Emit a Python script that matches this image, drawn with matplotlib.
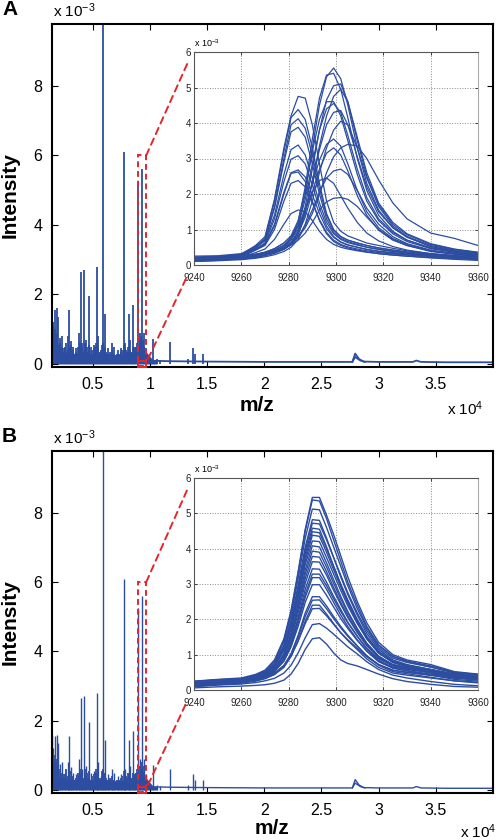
import matplotlib.pyplot as plt
from matplotlib.patches import Rectangle, ConnectionPatch

plt.rcParams['font.family'] = ['Liberation Sans', 'DejaVu Sans']
plt.rcParams['mathtext.fontset'] = 'custom'
plt.rcParams['mathtext.rm'] = 'Liberation Sans'
plt.rcParams['mathtext.it'] = 'Liberation Sans:italic'
plt.rcParams['mathtext.bf'] = 'Liberation Sans:bold'

BLUE = '#2c4da0'
RED = '#e3262e'

# --- overview spectrum (intensity in units of 1e-3) ---
peak_mz = [1470, 1560, 1700, 1850, 1960, 2100, 2350, 2600, 2800, 2950,
           3100, 3300, 3500, 3800, 3950, 4100, 4270, 4450, 4650, 4850,
           5100, 5350, 5500, 5700, 5880, 6080, 6300, 6650, 6900, 7200,
           7500, 7740, 7850, 8150, 8300, 8550, 8700, 8940, 9100, 9300,
           9500, 9700, 10270, 10600, 10900, 11760, 13340, 13800, 13950, 14680]
peak_int = [1.6, 1.2, 1.55, 1.6, 1.35, 0.75, 0.8, 0.5, 0.8, 1.55,
            0.65, 0.5, 0.45, 0.9, 2.65, 0.6, 2.7, 0.7, 1.95, 0.5,
            0.55, 2.8, 0.8, 0.4, 10.5, 1.45, 0.45, 0.6, 0.5, 0.4,
            0.45, 6.1, 0.6, 1.45, 0.7, 1.7, 0.5, 5.25, 0.9, 5.6,
            0.9, 0.45, 0.72, 0.15, 0.12, 0.62, 0.15, 0.45, 0.3, 0.3]

noise_mz = [1500, 1550, 1600, 1650, 1700, 1750, 1800, 1850, 1900, 1950,
            2000, 2100, 2200, 2300, 2400, 2500, 2600, 2700, 2800, 2900,
            3000, 3100, 3200, 3300, 3400, 3500, 3600, 3700, 3800, 3900,
            4000, 4100, 4200, 4300, 4400, 4500, 4600, 4700, 4800, 4900,
            5000, 5100, 5200, 5300, 5400, 5500, 5600, 5700, 5800, 5900,
            6000, 6100, 6200, 6300, 6400, 6500, 6600, 6700, 6800, 6900,
            7000, 7100, 7200, 7300, 7400, 7500, 7600, 7700, 7800, 7900,
            8000, 8100, 8200, 8300, 8400, 8500, 8600, 8700, 8800, 8900,
            9000, 9100, 9200, 9300, 9400, 9500, 9600, 9700, 9800, 9900,
            10000, 10100, 10200, 10300, 10400]
noise_int = [0.9, 1.1, 0.5, 0.8, 1.0, 0.7, 0.6, 0.9, 0.8, 0.55,
             0.4, 0.6, 0.35, 0.5, 0.3, 0.45, 0.35, 0.6, 0.4, 0.5,
             0.3, 0.55, 0.3, 0.4, 0.25, 0.35, 0.3, 0.5, 0.4, 0.6,
             0.45, 0.5, 0.35, 0.6, 0.4, 0.5, 0.35, 0.55, 0.3, 0.4,
             0.3, 0.45, 0.5, 0.6, 0.45, 0.5, 0.35, 0.3, 0.55, 0.6,
             0.5, 0.45, 0.35, 0.3, 0.25, 0.35, 0.3, 0.4, 0.25, 0.3,
             0.25, 0.3, 0.2, 0.3, 0.25, 0.35, 0.4, 0.55, 0.5, 0.4,
             0.35, 0.5, 0.45, 0.4, 0.35, 0.5, 0.45, 0.4, 0.5, 0.6,
             0.5, 0.7, 0.8, 0.6, 0.7, 0.5, 0.4, 0.3, 0.25, 0.2,
             0.18, 0.15, 0.12, 0.12, 0.1]

band_mz = [1440, 2000, 3000, 4000, 5000, 6000, 7000, 8000, 9000, 9600, 10200, 10600]
band_hi = [0.5, 0.4, 0.3, 0.32, 0.3, 0.32, 0.25, 0.3, 0.38, 0.38, 0.14, 0.09]

base_mz = [1440, 3000, 6000, 9000, 10500, 12000, 15000, 20000, 25000, 27700,
           27950, 28300, 28700, 30000, 33000, 33300, 33700, 36000, 40000]
base_int = [0.12, 0.1, 0.08, 0.08, 0.09, 0.08, 0.07, 0.06, 0.06, 0.06,
            0.3, 0.14, 0.07, 0.06, 0.06, 0.1, 0.06, 0.05, 0.05]
bump_mz = [27700, 27950, 28400, 28800]
bump_int = [0.06, 0.2, 0.1, 0.06]

# zoomed region shown in the overview
zoom_mz = (8940, 9680)
zoom_int = 6.0

# --- inset curves (m/z 9240-9360, intensity in units of 1e-3) ---
inset_mz = [9240, 9250, 9260, 9266, 9270, 9274, 9278, 9281, 9284, 9287, 9290, 9293,
            9296, 9299, 9302, 9305, 9309, 9313, 9318, 9324, 9330, 9340, 9350, 9360]

curves_a = [
    [0.20, 0.22, 0.30, 0.55, 0.80, 1.85, 3.30, 4.20, 4.75, 4.70, 3.95, 2.85, 1.80, 1.20, 0.95, 0.82, 0.72, 0.62, 0.55, 0.47, 0.40, 0.32, 0.27, 0.22],
    [0.18, 0.20, 0.28, 0.50, 0.75, 1.80, 3.20, 4.15, 4.38, 4.10, 3.30, 2.30, 1.45, 1.00, 0.80, 0.70, 0.62, 0.55, 0.48, 0.42, 0.36, 0.30, 0.25, 0.20],
    [0.25, 0.26, 0.32, 0.52, 0.72, 1.65, 3.00, 3.95, 4.12, 3.85, 3.10, 2.15, 1.40, 0.98, 0.80, 0.70, 0.62, 0.55, 0.48, 0.42, 0.37, 0.30, 0.26, 0.22],
    [0.15, 0.18, 0.26, 0.48, 0.70, 1.60, 2.90, 3.75, 3.88, 3.60, 2.85, 2.00, 1.30, 0.92, 0.75, 0.66, 0.58, 0.50, 0.44, 0.38, 0.33, 0.27, 0.22, 0.18],
    [0.22, 0.24, 0.30, 0.50, 0.68, 1.40, 2.55, 3.25, 3.38, 3.10, 2.45, 1.75, 1.20, 0.88, 0.72, 0.63, 0.56, 0.50, 0.44, 0.39, 0.34, 0.28, 0.24, 0.20],
    [0.12, 0.15, 0.24, 0.45, 0.62, 1.30, 2.35, 2.98, 3.08, 2.85, 2.25, 1.60, 1.10, 0.80, 0.65, 0.57, 0.50, 0.44, 0.38, 0.33, 0.29, 0.24, 0.20, 0.16],
    [0.20, 0.22, 0.28, 0.45, 0.60, 1.15, 2.05, 2.60, 2.68, 2.48, 1.98, 1.45, 1.02, 0.78, 0.64, 0.56, 0.50, 0.44, 0.39, 0.35, 0.31, 0.26, 0.22, 0.19],
    [0.10, 0.13, 0.22, 0.42, 0.58, 1.10, 2.00, 2.58, 2.62, 2.35, 1.80, 1.25, 0.88, 0.66, 0.55, 0.48, 0.42, 0.37, 0.32, 0.28, 0.25, 0.20, 0.16, 0.13],
    [0.18, 0.20, 0.26, 0.42, 0.55, 1.00, 1.80, 2.30, 2.38, 2.20, 1.75, 1.28, 0.92, 0.70, 0.58, 0.51, 0.45, 0.40, 0.35, 0.31, 0.28, 0.24, 0.20, 0.17],
    [0.14, 0.16, 0.22, 0.35, 0.45, 0.72, 1.15, 1.45, 1.55, 1.50, 1.25, 0.95, 0.72, 0.58, 0.50, 0.45, 0.40, 0.36, 0.32, 0.28, 0.25, 0.21, 0.18, 0.15],
    [0.15, 0.17, 0.20, 0.25, 0.30, 0.38, 0.50, 0.70, 1.10, 2.00, 3.30, 4.50, 5.30, 5.55, 5.25, 4.50, 3.30, 2.30, 1.55, 1.05, 0.78, 0.52, 0.40, 0.32],
    [0.12, 0.14, 0.18, 0.24, 0.30, 0.40, 0.55, 0.75, 1.20, 2.20, 3.55, 4.70, 5.35, 5.40, 4.95, 4.15, 3.00, 2.10, 1.40, 0.95, 0.70, 0.48, 0.36, 0.28],
    [0.18, 0.20, 0.22, 0.26, 0.30, 0.36, 0.46, 0.62, 0.95, 1.65, 2.70, 3.80, 4.65, 5.05, 5.10, 4.60, 3.50, 2.50, 1.70, 1.15, 0.85, 0.58, 0.44, 0.35],
    [0.14, 0.16, 0.19, 0.23, 0.28, 0.34, 0.44, 0.58, 0.85, 1.45, 2.35, 3.35, 4.20, 4.75, 4.95, 4.60, 3.60, 2.60, 1.75, 1.20, 0.88, 0.60, 0.45, 0.36],
    [0.20, 0.22, 0.25, 0.30, 0.36, 0.46, 0.62, 0.82, 1.25, 2.10, 3.20, 4.10, 4.60, 4.60, 4.20, 3.50, 2.55, 1.80, 1.25, 0.88, 0.66, 0.46, 0.36, 0.28],
    [0.16, 0.18, 0.21, 0.26, 0.32, 0.42, 0.56, 0.74, 1.10, 1.85, 2.85, 3.80, 4.40, 4.55, 4.30, 3.65, 2.70, 1.90, 1.30, 0.92, 0.70, 0.48, 0.38, 0.30],
    [0.22, 0.24, 0.26, 0.30, 0.34, 0.40, 0.50, 0.64, 0.92, 1.50, 2.35, 3.25, 3.95, 4.30, 4.35, 3.95, 3.05, 2.20, 1.50, 1.05, 0.80, 0.55, 0.42, 0.34],
    [0.10, 0.12, 0.15, 0.19, 0.23, 0.29, 0.38, 0.50, 0.72, 1.15, 1.80, 2.60, 3.30, 3.80, 4.05, 3.95, 3.30, 2.45, 1.65, 1.10, 0.80, 0.52, 0.38, 0.28],
    [0.18, 0.20, 0.23, 0.28, 0.33, 0.42, 0.55, 0.72, 1.00, 1.55, 2.30, 2.95, 3.40, 3.55, 3.35, 2.85, 2.10, 1.50, 1.05, 0.75, 0.58, 0.40, 0.32, 0.25],
    [0.13, 0.15, 0.18, 0.22, 0.27, 0.35, 0.47, 0.62, 0.88, 1.35, 2.05, 2.70, 3.15, 3.30, 3.10, 2.65, 1.95, 1.40, 0.98, 0.70, 0.55, 0.38, 0.30, 0.24],
    [0.20, 0.22, 0.25, 0.30, 0.36, 0.46, 0.62, 0.80, 1.10, 1.55, 2.05, 2.38, 2.45, 2.30, 1.95, 1.60, 1.20, 0.90, 0.68, 0.52, 0.42, 0.32, 0.26, 0.21],
    [0.12, 0.14, 0.17, 0.21, 0.26, 0.33, 0.44, 0.58, 0.80, 1.12, 1.55, 2.05, 2.45, 2.65, 2.70, 2.55, 2.10, 1.60, 1.15, 0.80, 0.60, 0.42, 0.33, 0.26],
    [0.16, 0.18, 0.21, 0.25, 0.30, 0.36, 0.46, 0.58, 0.78, 1.05, 1.45, 2.00, 2.60, 3.05, 3.30, 3.40, 3.35, 3.00, 2.40, 1.75, 1.30, 0.90, 0.75, 0.55],
    [0.20, 0.22, 0.24, 0.28, 0.32, 0.38, 0.46, 0.56, 0.70, 0.90, 1.20, 1.55, 1.78, 1.88, 1.90, 1.85, 1.65, 1.35, 1.00, 0.72, 0.55, 0.40, 0.32, 0.26],
]

curves_b = [
    [0.20, 0.28, 0.32, 0.42, 0.55, 0.85, 1.45, 2.25, 3.35, 4.55, 5.45, 5.45, 4.95, 4.40, 3.80, 3.20, 2.50, 1.90, 1.35, 1.00, 0.85, 0.72, 0.52, 0.45],
    [0.18, 0.25, 0.30, 0.40, 0.52, 0.80, 1.40, 2.20, 3.30, 4.50, 5.38, 5.35, 4.85, 4.25, 3.65, 3.05, 2.40, 1.80, 1.28, 0.95, 0.80, 0.65, 0.48, 0.40],
    [0.25, 0.30, 0.34, 0.44, 0.56, 0.82, 1.38, 2.10, 3.15, 4.30, 5.12, 5.10, 4.60, 4.05, 3.50, 2.95, 2.30, 1.75, 1.25, 0.95, 0.82, 0.68, 0.50, 0.42],
    [0.15, 0.22, 0.27, 0.36, 0.47, 0.72, 1.25, 1.95, 2.95, 4.05, 4.82, 4.80, 4.30, 3.75, 3.20, 2.70, 2.12, 1.60, 1.15, 0.85, 0.72, 0.58, 0.42, 0.35],
    [0.22, 0.27, 0.31, 0.40, 0.50, 0.75, 1.28, 1.95, 2.90, 3.95, 4.72, 4.70, 4.25, 3.75, 3.25, 2.75, 2.18, 1.68, 1.20, 0.90, 0.78, 0.65, 0.50, 0.44],
    [0.12, 0.18, 0.24, 0.33, 0.44, 0.68, 1.18, 1.85, 2.80, 3.85, 4.58, 4.55, 4.05, 3.50, 2.98, 2.50, 1.95, 1.48, 1.05, 0.78, 0.66, 0.52, 0.38, 0.30],
    [0.20, 0.26, 0.30, 0.38, 0.48, 0.70, 1.20, 1.85, 2.75, 3.75, 4.48, 4.45, 4.00, 3.50, 3.00, 2.55, 2.00, 1.52, 1.10, 0.82, 0.70, 0.58, 0.45, 0.38],
    [0.16, 0.22, 0.27, 0.35, 0.45, 0.66, 1.12, 1.75, 2.65, 3.65, 4.38, 4.35, 3.90, 3.40, 2.92, 2.45, 1.92, 1.45, 1.05, 0.78, 0.68, 0.55, 0.42, 0.36],
    [0.24, 0.29, 0.32, 0.40, 0.50, 0.70, 1.12, 1.72, 2.58, 3.55, 4.22, 4.20, 3.75, 3.28, 2.82, 2.38, 1.88, 1.45, 1.05, 0.80, 0.70, 0.58, 0.46, 0.40],
    [0.10, 0.16, 0.22, 0.30, 0.40, 0.60, 1.02, 1.60, 2.45, 3.40, 4.08, 4.05, 3.60, 3.12, 2.65, 2.22, 1.74, 1.32, 0.95, 0.70, 0.60, 0.48, 0.34, 0.28],
    [0.18, 0.24, 0.28, 0.35, 0.44, 0.62, 1.02, 1.58, 2.38, 3.28, 3.93, 3.90, 3.48, 3.02, 2.58, 2.18, 1.72, 1.32, 0.96, 0.72, 0.63, 0.52, 0.40, 0.34],
    [0.14, 0.20, 0.25, 0.32, 0.41, 0.58, 0.96, 1.50, 2.28, 3.15, 3.78, 3.76, 3.35, 2.90, 2.48, 2.10, 1.66, 1.28, 0.92, 0.70, 0.62, 0.50, 0.38, 0.32],
    [0.22, 0.27, 0.30, 0.36, 0.44, 0.60, 0.95, 1.45, 2.18, 3.02, 3.63, 3.62, 3.25, 2.82, 2.42, 2.05, 1.62, 1.25, 0.92, 0.72, 0.64, 0.54, 0.44, 0.40],
    [0.12, 0.18, 0.23, 0.30, 0.38, 0.54, 0.88, 1.36, 2.05, 2.85, 3.43, 3.42, 3.05, 2.65, 2.28, 1.92, 1.52, 1.16, 0.84, 0.62, 0.54, 0.42, 0.30, 0.25],
    [0.20, 0.25, 0.28, 0.34, 0.42, 0.56, 0.88, 1.32, 1.98, 2.72, 3.28, 3.28, 2.95, 2.58, 2.22, 1.90, 1.52, 1.18, 0.88, 0.68, 0.60, 0.50, 0.40, 0.36],
    [0.15, 0.21, 0.25, 0.31, 0.39, 0.52, 0.82, 1.25, 1.90, 2.62, 3.18, 3.18, 2.85, 2.48, 2.12, 1.80, 1.42, 1.10, 0.80, 0.62, 0.55, 0.45, 0.35, 0.30],
    [0.24, 0.28, 0.30, 0.35, 0.42, 0.55, 0.82, 1.22, 1.80, 2.48, 2.98, 2.98, 2.68, 2.35, 2.02, 1.74, 1.40, 1.10, 0.82, 0.65, 0.58, 0.50, 0.42, 0.38],
    [0.10, 0.15, 0.19, 0.25, 0.32, 0.44, 0.68, 1.02, 1.55, 2.18, 2.64, 2.64, 2.38, 2.08, 1.80, 1.55, 1.25, 0.96, 0.70, 0.52, 0.46, 0.36, 0.26, 0.20],
    [0.18, 0.22, 0.25, 0.30, 0.36, 0.47, 0.70, 1.02, 1.50, 2.08, 2.54, 2.55, 2.30, 2.02, 1.76, 1.52, 1.24, 0.97, 0.72, 0.56, 0.50, 0.42, 0.34, 0.30],
    [0.14, 0.19, 0.22, 0.27, 0.33, 0.44, 0.64, 0.95, 1.40, 1.95, 2.40, 2.40, 2.15, 1.88, 1.62, 1.40, 1.14, 0.88, 0.64, 0.48, 0.42, 0.34, 0.26, 0.22],
    [0.20, 0.24, 0.27, 0.32, 0.38, 0.48, 0.68, 0.96, 1.38, 1.88, 2.30, 2.31, 2.10, 1.86, 1.62, 1.42, 1.18, 0.94, 0.72, 0.56, 0.50, 0.42, 0.35, 0.31],
    [0.10, 0.14, 0.17, 0.21, 0.26, 0.33, 0.48, 0.70, 1.05, 1.48, 1.85, 1.88, 1.75, 1.58, 1.40, 1.22, 1.02, 0.80, 0.58, 0.42, 0.34, 0.24, 0.16, 0.12],
    [0.06, 0.09, 0.11, 0.13, 0.15, 0.19, 0.28, 0.45, 0.75, 1.15, 1.45, 1.48, 1.30, 1.05, 0.85, 0.75, 0.68, 0.58, 0.45, 0.32, 0.24, 0.16, 0.10, 0.08],
]

main_xticks = [5000, 10000, 15000, 20000, 25000, 30000, 35000]
main_xlabels = ['0.5', '1', '1.5', '2', '2.5', '3', '3.5']
main_yticks = [0, 2, 4, 6, 8]
inset_xticks = [9240, 9260, 9280, 9300, 9320, 9340, 9360]
inset_yticks = [0, 1, 2, 3, 4, 5, 6]

W, H = 496, 840
fig = plt.figure(figsize=(W / 100, H / 100), dpi=100)


def box(left, top, right, bottom):
    return [left / W, 1 - bottom / H, (right - left) / W, (bottom - top) / H]


def panel(letter, main_px, inset_px, curves, lw_main, lw_inset, mz_px, x4_px):
    left, top, right, bottom = main_px
    ax = fig.add_axes(box(*main_px))
    ax.fill_between(band_mz, 0, band_hi, color=BLUE, lw=0)
    ax.vlines(noise_mz, 0, noise_int, color=BLUE, lw=1.3)
    ax.vlines(peak_mz, 0, peak_int, color=BLUE, lw=lw_main)
    ax.plot(base_mz, base_int, color=BLUE, lw=lw_main)
    ax.plot(bump_mz, bump_int, color=BLUE, lw=lw_main)
    ax.set_xlim(1440, 40000)
    ax.set_ylim(-0.086, 9.78)
    ax.set_xticks(main_xticks)
    ax.set_xticklabels(main_xlabels)
    ax.set_yticks(main_yticks)
    ax.tick_params(direction='in', top=True, right=True, labelsize=11.5,
                   length=4, width=0.8, pad=7)
    for s in ax.spines.values():
        s.set_linewidth(1.5)

    # dashed zoom rectangle
    ax.add_patch(Rectangle((zoom_mz[0], -0.05), zoom_mz[1] - zoom_mz[0], zoom_int + 0.05,
                           fill=False, ec=RED, lw=1.4, ls=(0, (3, 2)), zorder=5))
    ax.add_patch(Rectangle((zoom_mz[0], -0.08), zoom_mz[1] - zoom_mz[0], 0.17,
                           fill=False, ec=RED, lw=1.4, zorder=5, clip_on=False))

    # inset
    ins = fig.add_axes(box(*inset_px))
    for c in curves:
        ins.plot(inset_mz, c, color=BLUE, lw=lw_inset)
    ins.set_xlim(9240, 9360)
    ins.set_ylim(0, 6)
    ins.set_xticks(inset_xticks)
    ins.set_yticks(inset_yticks)
    ins.grid(True, ls=':', color='#8a8a8a', lw=0.7)
    ins.tick_params(direction='in', top=True, right=True, labelsize=7,
                    length=2.5, width=0.6, colors='#222222')
    ins.tick_params(axis='x', pad=6)
    ins.tick_params(axis='y', pad=2)
    for s in ins.spines.values():
        s.set_linewidth(0.8)
        s.set_color('#555555')
    ins.spines['right'].set_color('#aaaaaa')

    # connectors from the rectangle to the inset
    for xa, ya, xb, yb in [(zoom_mz[1], zoom_int, -0.021, 0.953),
                           (9840, 0.15, -0.025, -0.055)]:
        con = ConnectionPatch(xyA=(xa, ya), coordsA=ax.transData,
                              xyB=(xb, yb), coordsB=ins.transAxes,
                              color=RED, lw=1.4, ls=(0, (3.5, 2.5)))
        fig.add_artist(con)

    # labels
    fig.text(2 / W, 1 - (top - 9) / H, letter, fontsize=15, fontweight='bold', va='baseline')
    fig.text(53 / W, 1 - (top - 7) / H, 'x 10$^{-3}$', fontsize=11, va='baseline')
    fig.text(10 / W, 1 - ((top + bottom) / 2) / H, 'Intensity', fontsize=15,
             fontweight='bold', rotation=90, ha='center', va='center')
    fig.text(mz_px[0] / W, 1 - mz_px[1] / H, 'm/z', fontsize=15, fontweight='bold',
             ha='center', va='baseline')
    fig.text(x4_px[0] / W, 1 - x4_px[1] / H, 'x 10$^{4}$', fontsize=11, va='baseline')
    il, it, ir, ib = inset_px
    fig.text(il / W, 1 - (it - 5) / H, 'x 10$^{-3}$', fontsize=6.5, va='baseline')


panel('A', (52, 24, 493, 367), (194, 52, 478, 265), curves_a, 1.3, 0.9, (257, 411), (447, 415))
panel('B', (52, 451, 493, 793), (194, 478, 478, 690), curves_b, 1.0, 1.0, (272, 834), (460, 838))

fig.savefig('out.png', dpi=100)
